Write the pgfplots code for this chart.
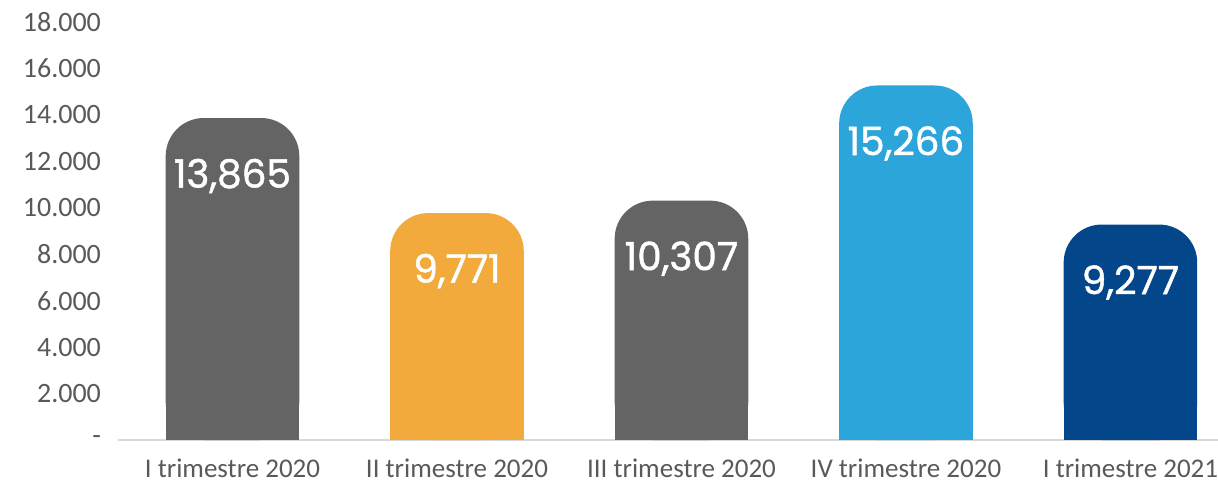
\documentclass[border=0pt]{standalone}
\usepackage{pgfplots}
\pgfplotsset{compat=1.18}
\usepackage{fontspec}
\setmainfont{Carlito}
\newfontfamily\valfont{Poppins}[FakeBold=1.2]

\definecolor{cgray}{HTML}{646464}
\definecolor{corange}{HTML}{F2AA3C}
\definecolor{cblue}{HTML}{2CA5DB}
\definecolor{cnavy}{HTML}{03468A}
\definecolor{ctick}{HTML}{595959}
\definecolor{cline}{HTML}{D9D9D9}

\pgfplotsset{
  qbar/.style={ybar, bar width=0.595, bar shift=0pt, draw=none, fill=#1},
  qtop/.style={qbar=#1, rounded corners=19pt,
    nodes near coords,
    every node near coord/.append style={anchor=center, yshift=-29pt,
      font=\valfont\fontsize{19.5}{23}\selectfont, text=white},
    /pgf/number format/.cd, fixed, 1000 sep={,}, assume math mode=true},
}

\begin{document}
\begin{tikzpicture}
  \begin{axis}[
    scale only axis,
    width=550pt, height=209pt,
    xmin=-0.51, xmax=4.39,
    ymin=0, ymax=18000,
    scaled y ticks=false,
    axis lines=left,
    y axis line style={draw=none},
    x axis line style={draw=cline, line width=0.8pt, -},
    major tick length=0pt,
    xtick={0,1,2,3,4},
    xticklabels={I trimestre 2020, II trimestre 2020, III trimestre 2020, IV trimestre 2020, I trimestre 2021},
    ytick={0,2000,4000,6000,8000,10000,12000,14000,16000,18000},
    yticklabels={-,2.000,4.000,6.000,8.000,10.000,12.000,14.000,16.000,18.000},
    yticklabel style={font=\fontsize{14}{16}\selectfont, text=ctick, xshift=-5pt},
    xticklabel style={font=\fontsize{13.5}{16}\selectfont, text=ctick, yshift=-6pt},
    clip=false,
  ]
    % the bars, rounded
    \addplot[qtop=cgray]   coordinates {(0,13865)};
    \addplot[qtop=corange] coordinates {(1,9771)};
    \addplot[qtop=cgray]   coordinates {(2,10307)};
    \addplot[qtop=cblue]   coordinates {(3,15266)};
    \addplot[qtop=cnavy]   coordinates {(4,9277)};
    % square bottoms so only the tops stay rounded
    \addplot[qbar=cgray]   coordinates {(0,4000)};
    \addplot[qbar=corange] coordinates {(1,4000)};
    \addplot[qbar=cgray]   coordinates {(2,4000)};
    \addplot[qbar=cblue]   coordinates {(3,4000)};
    \addplot[qbar=cnavy]   coordinates {(4,4000)};
  \end{axis}
  \pgfresetboundingbox
  \path ([xshift=-59pt,yshift=-23.5pt]current axis.south west)
    rectangle ([yshift=11pt]current axis.north east);
\end{tikzpicture}
\end{document}
